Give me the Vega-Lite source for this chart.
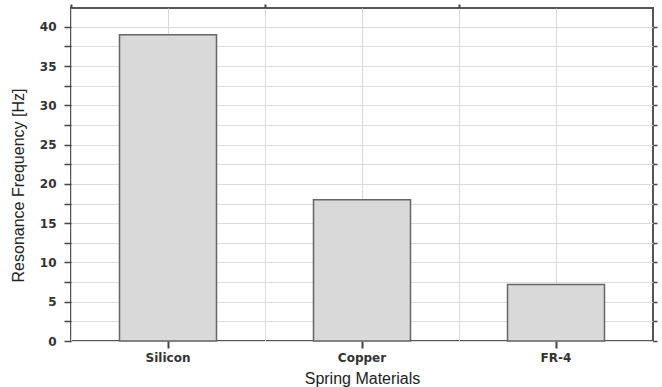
{
  "$schema": "https://vega.github.io/schema/vega-lite/v6.json",
  "width": 582,
  "height": 333,
  "autosize": {"type": "none"},
  "padding": {"left": 71, "top": 8, "right": 9, "bottom": 46},
  "background": "white",
  "config": {
    "view": {"stroke": "#555555", "strokeWidth": 2},
    "axis": {"labelFont": "DejaVu Sans", "titleFont": "Liberation Sans", "labelColor": "#333", "titleColor": "#222", "tickColor": "#444", "domain": false}
  },
  "data": {"values": [
    {"material": "Silicon", "freq": 39},
    {"material": "Copper", "freq": 18},
    {"material": "FR-4", "freq": 7.2}
  ]},
  "layer": [
    {
      "mark": {"type": "bar", "opacity": 0},
      "encoding": {
        "x": {"field": "material", "type": "nominal", "sort": null,
          "scale": {"paddingInner": 0, "paddingOuter": 0},
          "axis": {"orient": "top", "bandPosition": 0, "grid": true, "gridColor": "#d8d8d8", "gridWidth": 1, "labels": false, "ticks": true, "tickSize": 4, "tickWidth": 2, "title": null}},
        "y": {"field": "freq", "type": "quantitative",
          "scale": {"domain": [0, 42.4], "nice": false},
          "axis": {"orient": "right", "values": [0,2.5,5,7.5,10,12.5,15,17.5,20,22.5,25,27.5,30,32.5,35,37.5,40], "grid": true, "gridColor": "#dcdcdc", "gridWidth": 1, "labels": false, "tickSize": 4, "tickWidth": 1.5, "title": null}}
      }
    },
    {
      "mark": {"type": "bar", "width": {"band": 0.5}, "fill": "#d9d9d9", "stroke": "#666666", "strokeWidth": 1.5},
      "encoding": {
        "x": {"field": "material", "type": "nominal", "sort": null,
          "scale": {"paddingInner": 0, "paddingOuter": 0},
          "axis": {"orient": "bottom", "labelAngle": 0, "labelFontSize": 12, "labelFontWeight": "bold", "labelPadding": 4, "tickSize": 7, "tickWidth": 2, "grid": true, "gridColor": "#d8d8d8", "title": "Spring Materials", "titleFontSize": 16, "titleFontWeight": "normal", "titlePadding": 7}},
        "y": {"field": "freq", "type": "quantitative",
          "scale": {"domain": [0, 42.4], "nice": false},
          "axis": {"orient": "left", "values": [0,2.5,5,7.5,10,12.5,15,17.5,20,22.5,25,27.5,30,32.5,35,37.5,40], "labelExpr": "datum.value % 5 == 0 ? datum.label : ''", "labelFontSize": 12, "labelFontWeight": "bold", "labelPadding": 8, "tickSize": 7, "tickWidth": 1.5, "grid": false, "title": "Resonance Frequency [Hz]", "titleFontSize": 16, "titleFontWeight": "normal", "titlePadding": 13, "titleY": 177}}
      }
    }
  ],
  "resolve": {"axis": {"x": "independent", "y": "independent"}}
}
